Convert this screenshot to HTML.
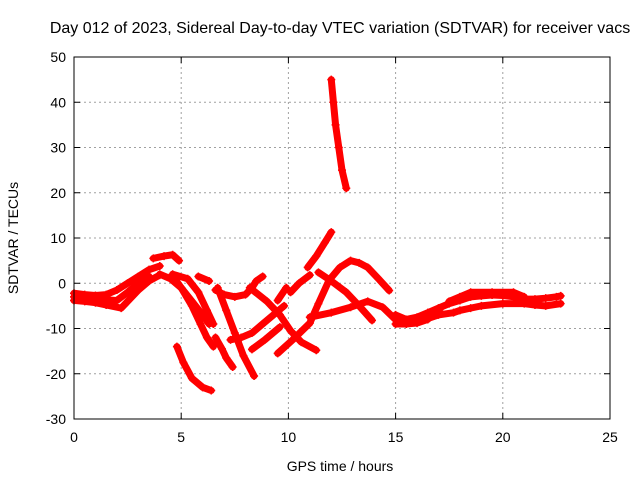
<!DOCTYPE html>
<html><head><meta charset="utf-8"><style>
body{margin:0;background:#fff;}
svg text{font-family:"Liberation Sans",sans-serif;font-size:14px;fill:#000;}
</style></head><body>
<svg id="chart" width="640" height="480" viewBox="0 0 640 480" xmlns="http://www.w3.org/2000/svg">
<rect width="640" height="480" fill="#fff"/>
<text x="340" y="33" text-anchor="middle" style="font-size:16px">Day 012 of 2023, Sidereal Day-to-day VTEC variation (SDTVAR) for receiver vacs</text>
<text x="340" y="471" text-anchor="middle">GPS time / hours</text>
<text transform="translate(18,238) rotate(-90)" text-anchor="middle">SDTVAR / TECUs</text>
<g id="grid"></g><g id="ticks"></g><g id="marks"></g>
<rect x="74" y="57" width="536" height="362" fill="none" stroke="#000" stroke-width="1"/>
</svg>
<script>
const xTicks=[0,5,10,15,20,25];
const yTicks=[-30,-20,-10,0,10,20,30,40,50];
const s1=[[0,-2.2],[0.5,-2.5],[1,-2.7],[1.5,-2.5],[2,-1.5],[2.5,0],[3,1.5],[3.5,3],[4,3.8]];
const s2=[[0,-3.8],[0.5,-4],[1,-4.3],[1.5,-4.8],[2.2,-5.5],[2.5,-4],[3,-1.5],[3.5,0.5],[4,1.8]];
const s3=[[0,-3],[1,-3.5],[2,-3.8],[2.5,-2],[3,0],[3.5,1.5]];
const s4=[[3.7,5.5],[4.2,6],[4.6,6.3],[4.9,5]];
const s5=[[4,2],[4.5,1],[5,-1],[5.5,-4],[6,-7],[6.3,-9]];
const s6=[[4.6,2],[5.3,1],[5.8,-2],[6.2,-6],[6.5,-9]];
const s7=[[4.7,1],[5,-1],[5.5,-5],[5.9,-9],[6.2,-12],[6.5,-14]];
const s8=[[6.6,-12],[6.9,-14.5],[7.1,-16.5],[7.4,-18.5]];
const s9=[[6.7,-1],[7.1,-6],[7.5,-11],[7.9,-16],[8.4,-20.5]];
const s10=[[6.6,-1.5],[7,-2.5],[7.5,-3],[8,-2.5],[8.3,-1],[8.5,0.5],[8.8,1.5]];
const s11=[[8.2,-1],[9,-4],[9.6,-7],[10.1,-10.5],[10.6,-13],[11.3,-14.8]];
const s12=[[7.3,-12.5],[7.8,-12],[8.3,-11],[8.8,-9],[9.3,-7],[9.8,-5]];
const s13=[[8.3,-14.6],[8.9,-12.5],[9.6,-9.7]];
const s14=[[9.5,-3.8],[9.9,-1]];
const s15=[[10.1,-2],[10.5,0],[11,1.8]];
const s16=[[10.9,3.5],[11.3,6],[11.7,9],[12,11.3]];
const s17=[[9.5,-15.5],[10.2,-12.5],[11,-8.8],[11.4,-4.5],[11.9,0.7],[12.4,3.5],[12.9,5],[13.3,4.5],[13.7,3.5],[14.2,1],[14.7,-1.6]];
const s18=[[11.4,2.4],[12,0.5],[12.7,-2],[13.3,-5],[13.9,-8.2]];
const s19=[[11,-7.5],[12,-6.5],[12.9,-5.3],[13.7,-4],[14.4,-5.3],[15.1,-8.5],[16,-8],[17.1,-5.5]];
const s20=[[12,45],[12.1,40],[12.2,35],[12.35,30],[12.5,25],[12.7,21]];
const s21=[[4.8,-14],[5.1,-17.5],[5.5,-21],[6,-23],[6.4,-23.7]];
const s22=[[5.8,1.5],[6.3,0.5]];
const s23=[[15,-7],[15.5,-8],[16,-7.5],[16.5,-6.5],[17,-5.5],[17.5,-4.5],[18,-3.8],[18.5,-3],[19,-2.8],[19.5,-2.6],[20,-2.7],[20.5,-3],[21,-3.5],[21.5,-3.5],[22,-3.3],[22.5,-3],[22.7,-2.8]];
const s24=[[16,-8.5],[16.5,-7.8],[17,-7],[17.7,-6.5],[18,-6],[18.5,-5.5],[19,-5],[20,-4.5],[21,-4.5],[21.5,-4.8],[22,-5],[22.7,-4.5]];
const s25=[[17.5,-4],[18,-3],[18.5,-2],[19.5,-2],[20.5,-2],[21,-3]];
const s26=[[15,-9],[15.5,-9],[16,-8.8],[16.5,-8]];
const series=[s1,s2,s3,s4,s5,s6,s7,s8,s9,s10,s11,s12,s13,s14,s15,s16,s17,s18,s19,s20,s21,s22,s23,s24,s25,s26];
const NS="http://www.w3.org/2000/svg";
const X0=74,X1=610,Y0=419,Y1=57;
function xs(h){return X0+(h-0)/(25-0)*(X1-X0);}
function ys(v){return Y0-(v+30)/(80)*(Y0-Y1);}
function mk(tag,attrs,parent){const e=document.createElementNS(NS,tag);for(const k in attrs)e.setAttribute(k,attrs[k]);parent.appendChild(e);return e;}
const grid=document.getElementById('grid'),ticks=document.getElementById('ticks'),marks=document.getElementById('marks');
xTicks.forEach(t=>{const x=xs(t);
 if(t>0&&t<25){const g=mk('line',{x1:x,x2:x,y1:Y1,y2:Y0,stroke:'#a0a0a0','stroke-dasharray':'2,3'},grid);
 
 }
 mk('line',{x1:x,x2:x,y1:Y0,y2:Y0-6,stroke:'#000'},ticks);
 mk('line',{x1:x,x2:x,y1:Y1,y2:Y1+6,stroke:'#000'},ticks);
 const tx=mk('text',{x:x,y:Y0+23,'text-anchor':'middle'},ticks);tx.textContent=t;
 
 
});
yTicks.forEach(t=>{const y=ys(t);
 if(t>-30&&t<50){const g=mk('line',{x1:X0,x2:X1,y1:y,y2:y,stroke:'#a0a0a0','stroke-dasharray':'2,3'},grid);
 
 }
 mk('line',{x1:X0,x2:X0+6,y1:y,y2:y,stroke:'#000'},ticks);
 mk('line',{x1:X1,x2:X1-6,y1:y,y2:y,stroke:'#000'},ticks);
 const tx=mk('text',{x:X0-8,y:y+5,'text-anchor':'end'},ticks);tx.textContent=t;
 
 
});
series.forEach((s,i)=>{
 const pl=mk('polyline',{points:s.map(p=>xs(p[0])+','+ys(p[1])).join(' '),fill:'none',stroke:'#ff0000','stroke-width':7,'stroke-linejoin':'round','stroke-linecap':'round'},marks);
 
 
 s.forEach(p=>{const x=xs(p[0]),y=ys(p[1]);
  const m=mk('path',{d:`M${x-4},${y}H${x+4}M${x},${y-4}V${y+4}`,stroke:'#ff0000','stroke-width':1.5},marks);
  
  
 });
});
</script>
</body></html>
